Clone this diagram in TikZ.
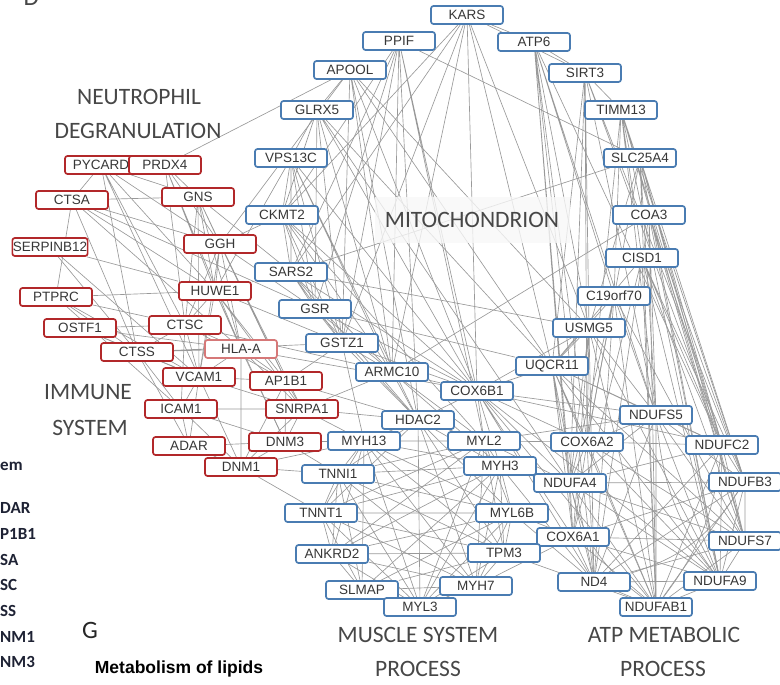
\documentclass[tikz,border=0pt]{standalone}
\usepackage{fontspec}
\setmainfont{Liberation Sans}
\newfontfamily\grpfont{Carlito}
\usepackage{tikz}
\usetikzlibrary{positioning}
\pgfdeclarelayer{bg}
\pgfsetlayers{bg,main}
\definecolor{boxred}{RGB}{178,40,42}
\definecolor{boxblue}{RGB}{74,124,178}
\definecolor{hlared}{RGB}{214,120,120}
\definecolor{txtgray}{RGB}{55,55,55}
\definecolor{cutnavy}{RGB}{30,34,52}
\tikzset{
	x=1pt, y=-1pt,
	box/.style = {rectangle, rounded corners=2.5pt, draw, line width=1.7pt,
	 fill=white, minimum width=72pt, minimum height=18pt, inner sep=0.5pt,
	 text=txtgray, font=\fontsize{13.5}{14}\selectfont},
	redbox/.style = {box, draw=boxred},
	hlabox/.style = {box, draw=hlared},
	blubox/.style = {box, draw=boxblue},
	link/.style = {draw=black!40, line width=0.65pt},
	grp/.style = {text=black!72, font=\grpfont\fontsize{23.5}{24}\selectfont},
	cut/.style = {anchor=west, inner sep=0pt, text=cutnavy, font=\grpfont\bfseries\fontsize{17}{18}\selectfont},
}

\begin{document}
\begin{tikzpicture}
	\useasboundingbox (0,0) rectangle (780,685);
	\clip (0,0) rectangle (780,685);
	% immune / neutrophil genes
	\node (pycard) [redbox] at (101,165) {PYCARD};
	\node (prdx4) [redbox] at (165,165) {PRDX4};
	\node (ctsa) [redbox] at (72,200) {CTSA};
	\node (gns) [redbox] at (198,197) {GNS};
	\node (ggh) [redbox] at (220,244) {GGH};
	\node (serpinb12) [redbox] at (50,247) {SERPINB12};
	\node (huwe1) [redbox] at (215,291) {HUWE1};
	\node (ptprc) [redbox] at (56,297) {PTPRC};
	\node (ostf1) [redbox] at (80,328) {OSTF1};
	\node (ctsc) [redbox] at (185,325) {CTSC};
	\node (ctss) [redbox] at (137,352) {CTSS};
	\node (hlaa) [hlabox] at (241,349) {HLA-A};
	\node (vcam1) [redbox] at (199,377) {VCAM1};
	\node (ap1b1) [redbox] at (286,381) {AP1B1};
	\node (icam1) [redbox] at (181,409) {ICAM1};
	\node (snrpa1) [redbox] at (302,409) {SNRPA1};
	\node (adar) [redbox] at (189,446) {ADAR};
	\node (dnm3) [redbox] at (285,442) {DNM3};
	\node (dnm1) [redbox] at (241,467) {DNM1};
	% mitochondrion
	\node (kars) [blubox] at (467,15) {KARS};
	\node (ppif) [blubox] at (399,41) {PPIF};
	\node (atp6) [blubox] at (534,42) {ATP6};
	\node (apool) [blubox] at (350,70) {APOOL};
	\node (sirt3) [blubox] at (585,73) {SIRT3};
	\node (glrx5) [blubox] at (317,110) {GLRX5};
	\node (timm13) [blubox] at (621,110) {TIMM13};
	\node (vps13c) [blubox] at (291,158) {VPS13C};
	\node (slc25a4) [blubox] at (640,158) {SLC25A4};
	\node (ckmt2) [blubox] at (282,215) {CKMT2};
	\node (coa3) [blubox] at (649,215) {COA3};
	\node (cisd1) [blubox] at (642,258) {CISD1};
	\node (sars2) [blubox] at (291,272) {SARS2};
	\node (c19orf70) [blubox] at (614,296) {C19orf70};
	\node (gsr) [blubox] at (315,309) {GSR};
	\node (usmg5) [blubox] at (589,328) {USMG5};
	\node (gstz1) [blubox] at (342,343) {GSTZ1};
	\node (uqcr11) [blubox] at (552,366) {UQCR11};
	\node (armc10) [blubox] at (392,372) {ARMC10};
	\node (cox6b1) [blubox] at (477,391) {COX6B1};
	% muscle and atp
	\node (hdac2) [blubox] at (418,420) {HDAC2};
	\node (ndufs5) [blubox] at (656,415) {NDUFS5};
	\node (myh13) [blubox] at (364,441) {MYH13};
	\node (myl2) [blubox] at (484,441) {MYL2};
	\node (cox6a2) [blubox] at (587,442) {COX6A2};
	\node (ndufc2) [blubox] at (722,445) {NDUFC2};
	\node (myh3) [blubox] at (500,466) {MYH3};
	\node (tnni1) [blubox] at (338,474) {TNNI1};
	\node (ndufa4) [blubox] at (570,483) {NDUFA4};
	\node (ndufb3) [blubox] at (745,482) {NDUFB3};
	\node (myl6b) [blubox] at (512,513) {MYL6B};
	\node (tnnt1) [blubox] at (321,513) {TNNT1};
	\node (cox6a1) [blubox] at (573,537) {COX6A1};
	\node (ndufs7) [blubox] at (745,541) {NDUFS7};
	\node (tpm3) [blubox] at (504,553) {TPM3};
	\node (ankrd2) [blubox] at (332,554) {ANKRD2};
	\node (nd4) [blubox] at (594,582) {ND4};
	\node (ndufa9) [blubox] at (720,581) {NDUFA9};
	\node (myh7) [blubox] at (476,586) {MYH7};
	\node (slmap) [blubox] at (362,590) {SLMAP};
	\node (ndufab1) [blubox] at (656,607) {NDUFAB1};
	\node (myl3) [blubox] at (420,607) {MYL3};
	\begin{pgfonlayer}{bg}
	% red cluster
	\path[link] (pycard) -- (ctsa) (pycard) -- (gns) (pycard) -- (ggh) (pycard) -- (huwe1)
	 (pycard) -- (ctsc) (pycard) -- (vcam1) (pycard) -- (ctss);
	\path[link] (prdx4) -- (gns) (prdx4) -- (ggh) (prdx4) -- (huwe1) (prdx4) -- (ctsc)
	 (prdx4) -- (apool) (prdx4) -- (hlaa);
	\path[link] (ctsa) -- (gns) (ctsa) -- (ggh) (ctsa) -- (huwe1) (ctsa) -- (ctss)
	 (ctsa) -- (hlaa) (ctsa) -- (ptprc) (ctsa) -- (gsr);
	\path[link] (gns) -- (ggh) (gns) -- (huwe1) (gns) -- (ctsc) (gns) -- (vcam1)
	 (gns) -- (hlaa) (gns) -- (ap1b1) (gns) -- (sars2);
	\path[link] (ggh) -- (huwe1) (ggh) -- (ckmt2) (ggh) -- (ctsc) (ggh) -- (vcam1)
	 (ggh) -- (gsr) (ggh) -- (hlaa) (ggh) -- (ap1b1) (ggh) -- (snrpa1) (ggh) -- (apool);
	\path[link] (serpinb12) -- (ctss) (serpinb12) -- (vcam1) (serpinb12) -- (huwe1);
	\path[link] (ptprc) -- (ctss) (ptprc) -- (vcam1) (ptprc) -- (icam1) (ptprc) -- (ctsc)
	 (ptprc) -- (huwe1);
	\path[link] (ostf1) -- (ctss) (ostf1) -- (ctsc) (ostf1) -- (vcam1) (ostf1) -- (hlaa);
	\path[link] (huwe1) -- (ctsc) (huwe1) -- (hlaa) (huwe1) -- (vcam1) (huwe1) -- (ap1b1)
	 (huwe1) -- (snrpa1) (huwe1) -- (gstz1) (huwe1) -- (dnm3) (huwe1) -- (sars2)
	 (huwe1) -- (vps13c);
	\path[link] (ctsc) -- (ctss) (ctsc) -- (hlaa) (ctsc) -- (vcam1) (ctsc) -- (icam1)
	 (ctsc) -- (ap1b1) (ctsc) -- (armc10);
	\path[link] (ctss) -- (vcam1) (ctss) -- (icam1) (ctss) -- (hlaa) (ctss) -- (adar)
	 (ctss) -- (gstz1);
	\path[link] (hlaa) -- (vcam1) (hlaa) -- (ap1b1) (hlaa) -- (snrpa1) (hlaa) -- (dnm3)
	 (hlaa) -- (dnm1) (hlaa) -- (cox6b1);
	\path[link] (vcam1) -- (icam1) (vcam1) -- (ap1b1) (vcam1) -- (snrpa1) (vcam1) -- (adar)
	 (vcam1) -- (dnm1);
	\path[link] (ap1b1) -- (snrpa1) (ap1b1) -- (dnm3) (ap1b1) -- (dnm1) (ap1b1) -- (gstz1)
	 (ap1b1) -- (hdac2);
	\path[link] (icam1) -- (adar) (icam1) -- (dnm1) (icam1) -- (dnm3) (icam1) -- (snrpa1);
	\path[link] (snrpa1) -- (dnm3) (snrpa1) -- (dnm1) (snrpa1) -- (armc10) (snrpa1) -- (myh13)
	 (snrpa1) -- (hdac2);
	\path[link] (adar) -- (dnm3) (adar) -- (dnm1) (dnm3) -- (dnm1) (dnm3) -- (myh13)
	 (dnm3) -- (tnni1) (dnm1) -- (tnni1) (dnm1) -- (tnnt1) (dnm1) -- (myh13);
	% mitochondrion cluster
	\path[link] (kars) -- (atp6) (kars) -- (sirt3) (kars) -- (ckmt2) (kars) -- (sars2)
	 (kars) -- (uqcr11) (kars) -- (cox6b1) (kars) -- (usmg5) (kars) -- (gstz1)
	 (kars) -- (armc10);
	\path[link] (ppif) -- (gsr) (ppif) -- (gstz1) (ppif) -- (armc10) (ppif) -- (hdac2)
	 (ppif) -- (cox6b1) (ppif) -- (slc25a4) (ppif) -- (sars2) (ppif) -- (ckmt2)
	 (ppif) -- (myl2);
	\path[link] (atp6) -- (cox6a2) (atp6) -- (ndufa4) (atp6) -- (nd4) (atp6) -- (ndufs5)
	 (atp6) -- (ndufc2) (atp6) -- (usmg5) (atp6) -- (c19orf70) (atp6) -- (cox6a1)
	 (atp6) -- (sirt3);
	\path[link] (apool) -- (cox6b1) (apool) -- (uqcr11) (apool) -- (gstz1) (apool) -- (armc10)
	 (apool) -- (usmg5) (apool) -- (glrx5) (apool) -- (hdac2);
	\path[link] (sirt3) -- (ndufs5) (sirt3) -- (ndufc2) (sirt3) -- (cox6a2) (sirt3) -- (uqcr11)
	 (sirt3) -- (timm13) (sirt3) -- (usmg5) (sirt3) -- (ndufb3) (sirt3) -- (ndufa4);
	\path[link] (glrx5) -- (vps13c) (glrx5) -- (ckmt2) (glrx5) -- (gsr) (glrx5) -- (gstz1)
	 (glrx5) -- (cox6b1) (glrx5) -- (ndufa4) (glrx5) -- (armc10) (glrx5) -- (uqcr11);
	\path[link] (timm13) -- (ndufs5) (timm13) -- (ndufc2) (timm13) -- (ndufb3) (timm13) -- (ndufs7)
	 (timm13) -- (ndufa9) (timm13) -- (cisd1) (timm13) -- (cox6a2) (timm13) -- (c19orf70);
	\path[link] (vps13c) -- (ckmt2) (vps13c) -- (sars2) (vps13c) -- (gsr) (vps13c) -- (gstz1)
	 (vps13c) -- (armc10) (vps13c) -- (hdac2) (vps13c) -- (cox6b1);
	\path[link] (slc25a4) -- (ndufc2) (slc25a4) -- (ndufb3) (slc25a4) -- (ndufs7) (slc25a4) -- (ndufa9)
	 (slc25a4) -- (ndufab1) (slc25a4) -- (ndufs5) (slc25a4) -- (usmg5) (slc25a4) -- (cox6a2)
	 (slc25a4) -- (sars2);
	\path[link] (coa3) -- (ndufb3) (coa3) -- (ndufs7) (coa3) -- (ndufa9) (coa3) -- (ndufab1)
	 (coa3) -- (ndufc2) (coa3) -- (ndufs5) (coa3) -- (nd4) (coa3) -- (armc10);
	\path[link] (cisd1) -- (ndufb3) (cisd1) -- (ndufs7) (cisd1) -- (ndufa9) (cisd1) -- (ndufab1)
	 (cisd1) -- (ndufc2) (cisd1) -- (cox6a1) (cisd1) -- (uqcr11);
	\path[link] (ckmt2) -- (sars2) (ckmt2) -- (gsr) (ckmt2) -- (gstz1) (ckmt2) -- (armc10)
	 (ckmt2) -- (cox6b1) (ckmt2) -- (myl2);
	\path[link] (sars2) -- (gsr) (sars2) -- (gstz1) (sars2) -- (armc10) (sars2) -- (hdac2)
	 (sars2) -- (cox6b1) (sars2) -- (usmg5);
	\path[link] (c19orf70) -- (ndufs5) (c19orf70) -- (ndufa4) (c19orf70) -- (cox6a2)
	 (c19orf70) -- (ndufab1) (c19orf70) -- (nd4) (c19orf70) -- (uqcr11) (c19orf70) -- (ndufs7);
	\path[link] (gsr) -- (gstz1) (gsr) -- (armc10) (gsr) -- (cox6b1) (gsr) -- (hdac2)
	 (gsr) -- (uqcr11);
	\path[link] (usmg5) -- (uqcr11) (usmg5) -- (cox6a2) (usmg5) -- (ndufa4) (usmg5) -- (cox6a1)
	 (usmg5) -- (nd4) (usmg5) -- (ndufab1) (usmg5) -- (ndufs5) (usmg5) -- (ndufa9)
	 (usmg5) -- (cox6b1);
	\path[link] (gstz1) -- (armc10) (gstz1) -- (hdac2) (gstz1) -- (cox6b1) (gstz1) -- (myh13);
	\path[link] (uqcr11) -- (cox6b1) (uqcr11) -- (cox6a2) (uqcr11) -- (ndufa4) (uqcr11) -- (cox6a1)
	 (uqcr11) -- (nd4) (uqcr11) -- (ndufab1) (uqcr11) -- (ndufs5) (uqcr11) -- (ndufa9)
	 (uqcr11) -- (ndufs7) (uqcr11) -- (ndufc2);
	\path[link] (armc10) -- (cox6b1) (armc10) -- (hdac2) (armc10) -- (myl2) (armc10) -- (myh3);
	% atp metabolic cluster
	\path[link] (cox6b1) -- (cox6a2) (cox6b1) -- (ndufa4) (cox6b1) -- (cox6a1) (cox6b1) -- (nd4)
	 (cox6b1) -- (ndufab1) (cox6b1) -- (ndufs5) (cox6b1) -- (ndufc2) (cox6b1) -- (ndufa9)
	 (cox6b1) -- (myl2) (cox6b1) -- (hdac2) (cox6b1) -- (myh3);
	\path[link] (ndufs5) -- (ndufc2) (ndufs5) -- (ndufb3) (ndufs5) -- (ndufs7) (ndufs5) -- (ndufa9)
	 (ndufs5) -- (ndufab1) (ndufs5) -- (nd4) (ndufs5) -- (cox6a2) (ndufs5) -- (ndufa4);
	\path[link] (cox6a2) -- (ndufa4) (cox6a2) -- (cox6a1) (cox6a2) -- (nd4) (cox6a2) -- (ndufab1)
	 (cox6a2) -- (ndufa9) (cox6a2) -- (ndufs7) (cox6a2) -- (ndufc2);
	\path[link] (ndufc2) -- (ndufb3) (ndufc2) -- (ndufs7) (ndufc2) -- (ndufa9) (ndufc2) -- (ndufab1)
	 (ndufc2) -- (ndufa4) (ndufc2) -- (nd4);
	\path[link] (ndufa4) -- (cox6a1) (ndufa4) -- (nd4) (ndufa4) -- (ndufab1) (ndufa4) -- (ndufa9)
	 (ndufa4) -- (ndufs7) (ndufa4) -- (ndufb3);
	\path[link] (ndufb3) -- (ndufs7) (ndufb3) -- (ndufa9) (ndufb3) -- (ndufab1) (ndufb3) -- (nd4)
	 (ndufb3) -- (cox6a1);
	\path[link] (cox6a1) -- (nd4) (cox6a1) -- (ndufab1) (cox6a1) -- (ndufa9) (cox6a1) -- (ndufs7);
	\path[link] (ndufs7) -- (ndufa9) (ndufs7) -- (ndufab1) (ndufs7) -- (nd4)
	 (nd4) -- (ndufab1) (nd4) -- (ndufa9) (ndufa9) -- (ndufab1);
	\path[link] (ndufb3) to[bend left=20] (nd4) (ndufc2) to[bend left=15] (ndufab1)
	 (ndufa4) to[bend right=20] (ndufab1) (ndufs5) to[bend right=15] (ndufa9);
	% muscle system cluster
	\path[link] (hdac2) -- (myh13) (hdac2) -- (myl2) (hdac2) -- (tnni1) (hdac2) -- (myh3)
	 (hdac2) -- (tnnt1) (hdac2) -- (myl6b) (hdac2) -- (tpm3) (hdac2) -- (myh7) (hdac2) -- (myl3);
	\path[link] (myh13) -- (myl2) (myh13) -- (tnni1) (myh13) -- (tnnt1) (myh13) -- (myh3)
	 (myh13) -- (ankrd2) (myh13) -- (myl6b) (myh13) -- (tpm3) (myh13) -- (myh7)
	 (myh13) -- (myl3) (myh13) -- (slmap);
	\path[link] (myl2) -- (myh3) (myl2) -- (tnni1) (myl2) -- (tnnt1) (myl2) -- (myl6b)
	 (myl2) -- (tpm3) (myl2) -- (myh7) (myl2) -- (myl3) (myl2) -- (ankrd2);
	\path[link] (myh3) -- (tnni1) (myh3) -- (myl6b) (myh3) -- (tpm3) (myh3) -- (myh7)
	 (myh3) -- (myl3) (myh3) -- (tnnt1) (myh3) -- (ankrd2) (myh3) -- (slmap);
	\path[link] (tnni1) -- (tnnt1) (tnni1) -- (ankrd2) (tnni1) -- (myl6b) (tnni1) -- (tpm3)
	 (tnni1) -- (myh7) (tnni1) -- (myl3) (tnni1) -- (slmap);
	\path[link] (tnnt1) -- (ankrd2) (tnnt1) -- (myl6b) (tnnt1) -- (tpm3) (tnnt1) -- (myh7)
	 (tnnt1) -- (myl3) (tnnt1) -- (slmap);
	\path[link] (ankrd2) -- (slmap) (ankrd2) -- (myl3) (ankrd2) -- (myh7) (ankrd2) -- (tpm3)
	 (ankrd2) -- (myl6b);
	\path[link] (myl6b) -- (tpm3) (myl6b) -- (myh7) (myl6b) -- (myl3) (myl6b) -- (slmap)
	 (tpm3) -- (myh7) (tpm3) -- (myl3) (tpm3) -- (slmap)
	 (myh7) -- (myl3) (myh7) -- (slmap) (slmap) -- (myl3);
	\path[link] (myl2) -- (cox6a2) (myh3) -- (ndufa4) (myl6b) -- (cox6a1) (tpm3) -- (cox6a1)
	 (myh3) -- (nd4) (myl2) -- (ndufa4) (myl6b) -- (nd4) (myh7) -- (cox6a1)
	 (tpm3) -- (ndufab1) (myl2) -- (ndufs5);
	\end{pgfonlayer}
	% group titles
	\node (mito) [grp, fill=black!3, fill opacity=0.8, text opacity=1,
	 minimum width=195pt, minimum height=46pt] at (472,220) {MITOCHONDRION};
	\node (neut1) [grp] at (139,97) {NEUTROPHIL};
	\node (neut2) [grp] at (138,131) {DEGRANULATION};
	\node (imm1) [grp] at (88,392) {IMMUNE};
	\node (imm2) [grp] at (90,428) {SYSTEM};
	\node (mus1) [grp] at (418,635) {MUSCLE SYSTEM};
	\node (mus2) [grp] at (418,669) {PROCESS};
	\node (atp1) [grp] at (664,635) {ATP METABOLIC};
	\node (atp2) [grp] at (663,669) {PROCESS};
	% panel letters and cut-off text
	\node (pd) [grp, anchor=base west, font=\grpfont\fontsize{25}{26}\selectfont] at (20,6) {D};
	\node (pg) [grp, text=black!85, font=\grpfont\fontsize{25}{26}\selectfont] at (90,630) {G};
	\node (lip) [font=\bfseries\fontsize{17.5}{18}\selectfont] at (179,669) {Metabolism of lipids};
	\node (c1) [cut] at (0,466) {em};
	\node (c2) [cut] at (0,508) {DAR};
	\node (c3) [cut] at (0,534) {P1B1};
	\node (c4) [cut] at (0,560) {SA};
	\node (c5) [cut] at (0,585) {SC};
	\node (c6) [cut] at (0,611) {SS};
	\node (c7) [cut] at (0,637) {NM1};
	\node (c8) [cut] at (0,662) {NM3};
\end{tikzpicture}
\end{document}
